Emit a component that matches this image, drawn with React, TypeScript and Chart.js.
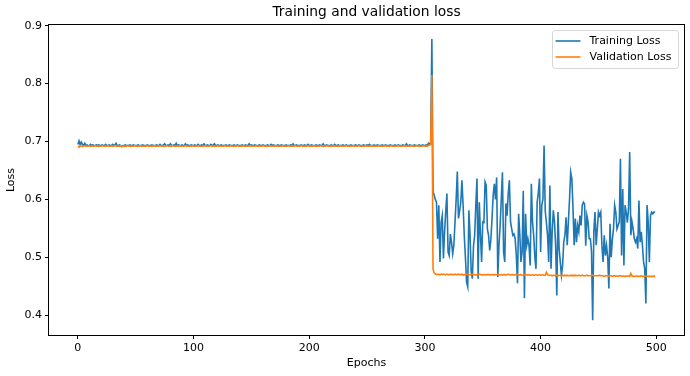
import React, { useEffect, useRef } from "react";
import { Chart, registerables } from "chart.js";

Chart.register(...registerables);

const FONT = '"DejaVu Sans", "Liberation Sans", sans-serif';

const chartTitle = "Training and validation loss";
const xAxisLabel = "Epochs";
const yAxisLabel = "Loss";
const seriesNames = ["Training Loss", "Validation Loss"];
const seriesColors = ["#1f77b4", "#ff7f0e"];

const xTicks = [0, 100, 200, 300, 400, 500];
const yTicks = [0.4, 0.5, 0.6, 0.7, 0.8, 0.9];

const trainingLoss: number[] = [
  0.695, 0.701, 0.694, 0.699, 0.695, 0.693, 0.697, 0.693, 0.694, 0.692, 0.693, 0.695, 0.693, 0.694, 0.693, 0.693, 0.694, 0.693, 0.694, 0.693,
  0.693, 0.694, 0.693, 0.693, 0.695, 0.693, 0.693, 0.694, 0.693, 0.693, 0.695, 0.693, 0.694, 0.697, 0.693, 0.693, 0.694, 0.693, 0.691, 0.693,
  0.693, 0.694, 0.693, 0.693, 0.693, 0.694, 0.693, 0.693, 0.694, 0.693, 0.693, 0.693, 0.694, 0.693, 0.693, 0.693, 0.694, 0.693, 0.693, 0.693,
  0.694, 0.693, 0.693, 0.693, 0.694, 0.693, 0.693, 0.693, 0.694, 0.693, 0.693, 0.695, 0.693, 0.693, 0.694, 0.696, 0.693, 0.693, 0.694, 0.693,
  0.696, 0.693, 0.693, 0.694, 0.693, 0.697, 0.693, 0.694, 0.693, 0.693, 0.694, 0.693, 0.693, 0.696, 0.693, 0.694, 0.693, 0.693, 0.694, 0.693,
  0.693, 0.694, 0.693, 0.693, 0.695, 0.693, 0.693, 0.694, 0.693, 0.696, 0.693, 0.693, 0.694, 0.693, 0.693, 0.695, 0.693, 0.694, 0.696, 0.693,
  0.693, 0.694, 0.693, 0.693, 0.694, 0.693, 0.693, 0.693, 0.694, 0.693, 0.693, 0.694, 0.693, 0.693, 0.693, 0.694, 0.693, 0.693, 0.694, 0.693,
  0.693, 0.693, 0.694, 0.693, 0.693, 0.694, 0.693, 0.693, 0.696, 0.693, 0.694, 0.693, 0.693, 0.694, 0.693, 0.693, 0.693, 0.694, 0.693, 0.693,
  0.694, 0.693, 0.693, 0.693, 0.694, 0.693, 0.693, 0.695, 0.693, 0.694, 0.693, 0.693, 0.693, 0.694, 0.693, 0.693, 0.694, 0.693, 0.693, 0.693,
  0.694, 0.693, 0.693, 0.693, 0.694, 0.693, 0.696, 0.693, 0.693, 0.694, 0.693, 0.693, 0.693, 0.694, 0.693, 0.693, 0.694, 0.693, 0.693, 0.695,
  0.693, 0.693, 0.694, 0.693, 0.693, 0.693, 0.694, 0.693, 0.693, 0.694, 0.693, 0.693, 0.696, 0.693, 0.693, 0.694, 0.693, 0.693, 0.693, 0.694,
  0.693, 0.693, 0.695, 0.693, 0.693, 0.694, 0.693, 0.693, 0.693, 0.694, 0.693, 0.693, 0.694, 0.693, 0.693, 0.693, 0.694, 0.693, 0.693, 0.693,
  0.694, 0.693, 0.693, 0.694, 0.693, 0.693, 0.693, 0.694, 0.693, 0.693, 0.694, 0.693, 0.695, 0.693, 0.693, 0.693, 0.694, 0.693, 0.693, 0.694,
  0.693, 0.693, 0.693, 0.694, 0.693, 0.693, 0.694, 0.693, 0.693, 0.693, 0.694, 0.693, 0.693, 0.693, 0.694, 0.693, 0.693, 0.694, 0.693, 0.693,
  0.693, 0.694, 0.693, 0.693, 0.696, 0.693, 0.693, 0.694, 0.693, 0.693, 0.693, 0.694, 0.693, 0.693, 0.693, 0.694, 0.693, 0.693, 0.694, 0.693,
  0.693, 0.694, 0.693, 0.697, 0.695, 0.699,
  0.877, 0.613, 0.607, 0.600, 0.595, 0.532, 0.590, 0.492, 0.561, 0.572,
  0.498, 0.544, 0.580, 0.610, 0.509, 0.503, 0.540, 0.526, 0.506, 0.521,
  0.560, 0.600, 0.648, 0.567, 0.580, 0.595, 0.633, 0.590, 0.538, 0.500,
  0.457, 0.449, 0.581, 0.538, 0.475, 0.463, 0.520, 0.538, 0.590, 0.636,
  0.463, 0.595, 0.540, 0.492, 0.561, 0.560, 0.630, 0.624, 0.549,
  0.538, 0.512, 0.530, 0.567, 0.607, 0.627, 0.600, 0.638, 0.466, 0.520,
  0.555, 0.600, 0.647, 0.509, 0.492, 0.593, 0.572, 0.610, 0.633, 0.561,
  0.549, 0.538, 0.540, 0.532, 0.503, 0.455, 0.575, 0.540, 0.492, 0.509,
  0.615, 0.429, 0.575, 0.521, 0.532, 0.520, 0.486, 0.627, 0.561, 0.538,
  0.500, 0.480, 0.595, 0.610, 0.636, 0.509, 0.590, 0.600, 0.693, 0.580,
  0.560, 0.538, 0.492, 0.624, 0.480, 0.544, 0.581, 0.561, 0.520, 0.434,
  0.578, 0.515, 0.492, 0.469, 0.486, 0.526, 0.538, 0.569, 0.521, 0.561,
  0.600, 0.647, 0.636, 0.584, 0.521, 0.567, 0.526, 0.555, 0.544, 0.572,
  0.555, 0.590, 0.595, 0.592, 0.520, 0.572, 0.561, 0.532, 0.532, 0.510,
  0.391, 0.544, 0.578, 0.521, 0.549, 0.578, 0.572, 0.578, 0.520, 0.492,
  0.538, 0.503, 0.520, 0.500, 0.446, 0.558, 0.500, 0.530, 0.549, 0.590,
  0.578, 0.549, 0.555, 0.561, 0.670, 0.503, 0.618, 0.486, 0.590, 0.578,
  0.560, 0.584, 0.682, 0.538, 0.561, 0.549, 0.532, 0.526, 0.532, 0.515,
  0.598, 0.526, 0.544, 0.521, 0.492, 0.480, 0.420, 0.590, 0.561, 0.492,
  0.572, 0.578, 0.575, 0.578, 0.578,
];

const validationLoss: number[] = [
  0.692, 0.690, 0.693, 0.692, 0.691, 0.692, 0.693, 0.692, 0.692, 0.692, 0.693, 0.692, 0.692, 0.692, 0.692, 0.693, 0.692, 0.692, 0.692, 0.692,
  0.692, 0.693, 0.692, 0.692, 0.692, 0.692, 0.693, 0.692, 0.692, 0.692, 0.692, 0.692, 0.693, 0.692, 0.692, 0.692, 0.692, 0.693, 0.692, 0.692,
  0.692, 0.692, 0.692, 0.693, 0.692, 0.692, 0.692, 0.692, 0.692, 0.693, 0.692, 0.692, 0.692, 0.692, 0.693, 0.692, 0.692, 0.692, 0.692, 0.692,
  0.693, 0.692, 0.692, 0.692, 0.692, 0.692, 0.693, 0.692, 0.692, 0.692, 0.692, 0.693, 0.692, 0.692, 0.692, 0.692, 0.692, 0.693, 0.692, 0.692,
  0.692, 0.692, 0.693, 0.692, 0.692, 0.692, 0.692, 0.692, 0.693, 0.692, 0.692, 0.692, 0.692, 0.693, 0.692, 0.692, 0.692, 0.692, 0.692, 0.693,
  0.692, 0.692, 0.692, 0.692, 0.693, 0.692, 0.692, 0.692, 0.692, 0.692, 0.693, 0.692, 0.692, 0.692, 0.692, 0.693, 0.692, 0.692, 0.692, 0.692,
  0.692, 0.693, 0.692, 0.692, 0.692, 0.692, 0.692, 0.693, 0.692, 0.692, 0.692, 0.692, 0.693, 0.692, 0.692, 0.692, 0.692, 0.692, 0.693, 0.692,
  0.692, 0.692, 0.692, 0.693, 0.692, 0.692, 0.692, 0.692, 0.692, 0.693, 0.692, 0.692, 0.692, 0.692, 0.693, 0.692, 0.692, 0.692, 0.692, 0.692,
  0.693, 0.692, 0.692, 0.692, 0.692, 0.692, 0.693, 0.692, 0.692, 0.692, 0.692, 0.693, 0.692, 0.692, 0.692, 0.692, 0.692, 0.693, 0.692, 0.692,
  0.692, 0.692, 0.693, 0.692, 0.692, 0.692, 0.692, 0.692, 0.693, 0.692, 0.692, 0.692, 0.692, 0.693, 0.692, 0.692, 0.692, 0.692, 0.692, 0.693,
  0.692, 0.692, 0.692, 0.692, 0.693, 0.692, 0.692, 0.692, 0.692, 0.692, 0.693, 0.692, 0.692, 0.692, 0.692, 0.693, 0.692, 0.692, 0.692, 0.692,
  0.692, 0.693, 0.692, 0.692, 0.692, 0.692, 0.692, 0.693, 0.692, 0.692, 0.692, 0.692, 0.693, 0.692, 0.692, 0.692, 0.692, 0.692, 0.693, 0.692,
  0.692, 0.692, 0.692, 0.693, 0.692, 0.692, 0.692, 0.692, 0.692, 0.693, 0.692, 0.692, 0.692, 0.692, 0.693, 0.692, 0.692, 0.692, 0.692, 0.692,
  0.693, 0.692, 0.692, 0.692, 0.692, 0.692, 0.693, 0.692, 0.692, 0.692, 0.692, 0.693, 0.692, 0.692, 0.692, 0.692, 0.692, 0.693, 0.692, 0.692,
  0.692, 0.692, 0.693, 0.692, 0.692, 0.692, 0.692, 0.692, 0.693, 0.692, 0.692, 0.692, 0.692, 0.693, 0.692, 0.692, 0.692, 0.692, 0.692, 0.693,
  0.692, 0.692, 0.692, 0.693, 0.694, 0.695,
  0.815, 0.480, 0.473,
  0.471, 0.470, 0.471, 0.470, 0.470, 0.471, 0.470, 0.471, 0.470, 0.470, 0.471, 0.470, 0.470, 0.470, 0.471, 0.470, 0.470, 0.471, 0.470, 0.470,
  0.471, 0.470, 0.470, 0.471, 0.469, 0.470, 0.470, 0.471, 0.470, 0.469, 0.470, 0.470, 0.471, 0.470, 0.470, 0.469, 0.470, 0.470, 0.471, 0.470,
  0.470, 0.469, 0.470, 0.470, 0.469, 0.470, 0.470, 0.470, 0.469, 0.470, 0.470, 0.469, 0.470, 0.470, 0.470, 0.469, 0.470, 0.470, 0.469, 0.470,
  0.470, 0.469, 0.470, 0.471, 0.470, 0.469, 0.470, 0.470, 0.469, 0.470, 0.469, 0.470, 0.470, 0.469, 0.470, 0.469, 0.469, 0.470, 0.469, 0.470,
  0.469, 0.470, 0.469, 0.469, 0.470, 0.469, 0.469, 0.470, 0.469, 0.469, 0.470, 0.469, 0.469, 0.470, 0.469, 0.469, 0.474, 0.470, 0.469, 0.469,
  0.469, 0.468, 0.469, 0.469, 0.468, 0.469, 0.468, 0.469, 0.469, 0.468, 0.469, 0.468, 0.469, 0.468, 0.469, 0.468, 0.468, 0.469, 0.468, 0.469,
  0.468, 0.469, 0.468, 0.468, 0.469, 0.468, 0.468, 0.469, 0.468, 0.468, 0.468, 0.469, 0.468, 0.468, 0.468, 0.468, 0.469, 0.468, 0.468, 0.468,
  0.468, 0.468, 0.469, 0.468, 0.468, 0.468, 0.467, 0.468, 0.468, 0.468, 0.467, 0.468, 0.468, 0.467, 0.468, 0.468, 0.467, 0.468, 0.467, 0.468,
  0.468, 0.467, 0.468, 0.467, 0.467, 0.468, 0.467, 0.468, 0.467, 0.472, 0.468, 0.467, 0.467, 0.467, 0.468, 0.467, 0.467, 0.467, 0.468, 0.467,
  0.467, 0.467, 0.467, 0.467, 0.467, 0.467, 0.467, 0.467, 0.467, 0.467, 0.468,
];

const epochs: number[] = trainingLoss.map((_, i) => i);

const titlePlugin = {
  id: "mplTitle",
  afterDraw(chart: any) {
    const { ctx, chartArea } = chart;
    ctx.save();
    ctx.font = `13.8px ${FONT}`;
    ctx.fillStyle = "#000";
    ctx.textAlign = "center";
    ctx.textBaseline = "middle";
    ctx.fillText(chartTitle, (chartArea.left + chartArea.right) / 2, 12.5);
    ctx.restore();
  },
};

const framePlugin = {
  id: "mplFrame",
  afterDatasetsDraw(chart: any) {
    const { ctx, chartArea } = chart;
    const { left, right, top, bottom } = chartArea;
    ctx.save();
    ctx.strokeStyle = "#000";
    ctx.lineWidth = 1;
    ctx.strokeRect(Math.round(left) - 0.5, Math.round(top) - 0.5, Math.round(right - left) + 1, Math.round(bottom - top) + 1);
    ctx.restore();
  },
};

const legendPlugin = {
  id: "mplLegend",
  afterDraw(chart: any) {
    const { ctx, chartArea } = chart;
    const right = chartArea.right;
    const top = chartArea.top;
    const w = 126;
    const h = 38;
    const x0 = right - 6 - w + 0.5;
    const y0 = top + 5 + 0.5;
    const r = 3;
    ctx.save();
    ctx.beginPath();
    ctx.moveTo(x0 + r, y0);
    ctx.lineTo(x0 + w - r, y0);
    ctx.quadraticCurveTo(x0 + w, y0, x0 + w, y0 + r);
    ctx.lineTo(x0 + w, y0 + h - r);
    ctx.quadraticCurveTo(x0 + w, y0 + h, x0 + w - r, y0 + h);
    ctx.lineTo(x0 + r, y0 + h);
    ctx.quadraticCurveTo(x0, y0 + h, x0, y0 + h - r);
    ctx.lineTo(x0, y0 + r);
    ctx.quadraticCurveTo(x0, y0, x0 + r, y0);
    ctx.closePath();
    ctx.fillStyle = "rgba(255,255,255,0.8)";
    ctx.fill();
    ctx.strokeStyle = "rgba(204,204,204,0.8)";
    ctx.lineWidth = 1;
    ctx.stroke();
    ctx.font = `11px ${FONT}`;
    ctx.textBaseline = "middle";
    ctx.textAlign = "left";
    chart.data.datasets.forEach((ds: any, i: number) => {
      const yy = y0 + 10.5 + i * 16;
      ctx.strokeStyle = ds.borderColor;
      ctx.lineWidth = 1.6;
      ctx.beginPath();
      ctx.moveTo(x0 + 3, yy);
      ctx.lineTo(x0 + 28, yy);
      ctx.stroke();
      ctx.fillStyle = "#000";
      ctx.fillText(ds.label, x0 + 37, yy);
    });
    ctx.restore();
  },
};

export default function App() {
  const canvasRef = useRef<HTMLCanvasElement | null>(null);

  useEffect(() => {
    document.body.style.margin = "0";
    const canvas = canvasRef.current;
    if (!canvas) return;
    const tickFont = { family: FONT, size: 11 };
    const chart = new Chart(canvas, {
      type: "line",
      data: {
        datasets: [
          {
            label: seriesNames[0],
            data: epochs.map((e, i) => ({ x: e, y: trainingLoss[i] })),
            borderColor: seriesColors[0],
            backgroundColor: seriesColors[0],
            borderWidth: 1.6,
            pointRadius: 0,
            fill: false,
            tension: 0,
            order: 1,
          },
          {
            label: seriesNames[1],
            data: epochs.map((e, i) => ({ x: e, y: validationLoss[i] })),
            borderColor: seriesColors[1],
            backgroundColor: seriesColors[1],
            borderWidth: 1.6,
            pointRadius: 0,
            fill: false,
            tension: 0,
            order: 0,
          },
        ],
      },
      options: {
        responsive: false,
        animation: false,
        devicePixelRatio: 1,
        layout: { padding: { left: 0, right: 6, top: 25, bottom: 0 } },
        plugins: {
          legend: { display: false },
          tooltip: { enabled: false },
          title: { display: false },
        },
        scales: {
          x: {
            type: "linear",
            min: -24.95,
            max: 523.95,
            afterFit: (s: any) => {
              s.height = 41;
            },
            afterBuildTicks: (s: any) => {
              s.ticks = xTicks.map((v) => ({ value: v }));
            },
            ticks: {
              color: "#000",
              font: tickFont,
              padding: 3,
              maxRotation: 0,
              autoSkip: false,
              callback: (v: any) => String(v),
            },
            grid: { drawOnChartArea: false, drawTicks: true, tickLength: 4, color: "#000" },
            border: { display: false },
            title: {
              display: true,
              text: xAxisLabel,
              color: "#000",
              font: { family: FONT, size: 11 },
              padding: { top: 0, bottom: 6.4 },
            },
          },
          y: {
            type: "linear",
            min: 0.3657,
            max: 0.9013,
            afterFit: (s: any) => {
              s.width = 49;
            },
            afterBuildTicks: (s: any) => {
              s.ticks = yTicks.map((v) => ({ value: v }));
            },
            ticks: {
              color: "#000",
              font: tickFont,
              padding: 3,
              autoSkip: false,
              callback: (v: any) => Number(v).toFixed(1),
            },
            grid: { drawOnChartArea: false, drawTicks: true, tickLength: 4, color: "#000" },
            border: { display: false },
            title: {
              display: true,
              text: yAxisLabel,
              color: "#000",
              font: { family: FONT, size: 11 },
              padding: { top: 4.4, bottom: 0 },
            },
          },
        },
      },
      plugins: [framePlugin, legendPlugin, titlePlugin],
    } as any);
    return () => chart.destroy();
  }, []);

  return (
    <div style={{ position: "absolute", left: 0, top: 0, width: 690, height: 376, background: "#fff" }}>
      <canvas ref={canvasRef} width={690} height={376} style={{ width: 690, height: 376, display: "block" }} />
    </div>
  );
}
